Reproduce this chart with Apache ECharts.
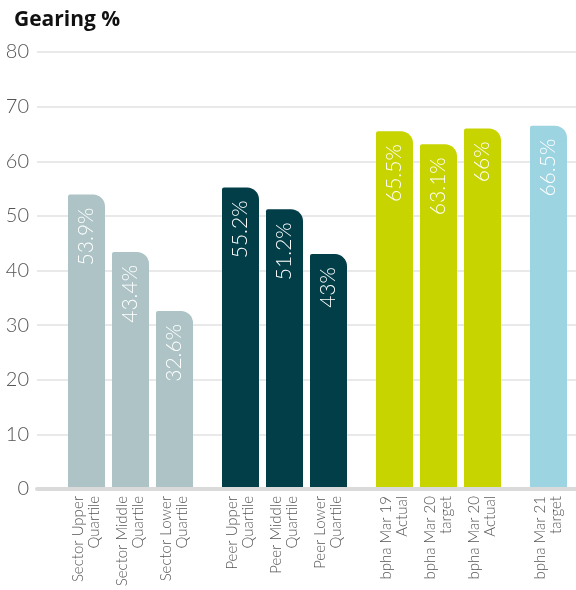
<!DOCTYPE html>
<html>
<head>
<meta charset="utf-8">
<script src="https://cdn.jsdelivr.net/npm/echarts@6/dist/echarts.min.js"></script>
<style>
  html, body { margin: 0; padding: 0; background: #fff; }
  #chart { width: 576px; height: 590px; }
</style>
</head>
<body>
<div id="chart"></div>
<script>
// Gearing % by comparison group
const categories = [
  'Sector Upper\nQuartile', 'Sector Middle\nQuartile', 'Sector Lower\nQuartile',
  'Peer Upper\nQuartile', 'Peer Middle\nQuartile', 'Peer Lower\nQuartile',
  'bpha Mar 19\nActual', 'bpha Mar 20\ntarget', 'bpha Mar 20\nActual',
  'bpha Mar 21\ntarget'
];
const gearing = [53.9, 43.4, 32.6, 55.2, 51.2, 43, 65.5, 63.1, 66, 66.5];
const group = [0, 0, 0, 1, 1, 1, 2, 2, 2, 3];
const groupColors = ['#adc3c6', '#023e48', '#c8d400', '#9dd4e1'];
const yTicks = { min: 0, max: 80, interval: 10 };

// Narrow category slots so that bars in a group sit close together
// and a wider gap separates the groups.
const LEAD = 4, STEP = 4, GROUP_GAP = 2, TRAIL = 2;
const lastSlot = LEAD + (categories.length - 1) * STEP + group[group.length - 1] * GROUP_GAP;
const slotCount = lastSlot + 1 + TRAIL;
const slotNames = [];
const slotLabels = [];
const slotData = [];
for (let s = 0; s < slotCount; s++) {
  slotNames.push('s' + s);
  slotLabels.push('');
  slotData.push('-');
}
categories.forEach((name, i) => {
  const s = LEAD + i * STEP + group[i] * GROUP_GAP;
  slotLabels[s] = name;
  slotData[s] = { value: gearing[i], itemStyle: { color: groupColors[group[i]] } };
});

const FONT = 'Lato, "Open Sans", sans-serif';
const chart = echarts.init(document.getElementById('chart'), null, { renderer: 'canvas' });
chart.setOption({
  animation: false,
  title: {
    text: 'Gearing %',
    left: 9, top: 5,
    textStyle: { fontFamily: '"Open Sans", Lato, sans-serif', fontSize: 21, fontWeight: 'bold', color: '#111' }
  },
  grid: { left: 37, right: 0, top: 52, bottom: 101 },
  xAxis: {
    type: 'category',
    data: slotNames,
    z: 5,
    axisLine: { show: true, lineStyle: { color: '#dadada', width: 4 } },
    axisTick: { show: false },
    axisLabel: {
      interval: 0,
      rotate: 90,
      margin: 7,
      fontFamily: FONT,
      fontWeight: 300,
      fontSize: 15,
      lineHeight: 16,
      color: '#555',
      formatter: (v, idx) => slotLabels[idx]
    }
  },
  yAxis: {
    type: 'value',
    min: yTicks.min, max: yTicks.max, interval: yTicks.interval,
    axisLine: { show: false },
    axisTick: { show: false },
    axisLabel: { margin: 8, fontFamily: FONT, fontWeight: 300, fontSize: 20, color: '#555' },
    splitLine: { lineStyle: { color: '#e2e2e2', width: 1.5 } }
  },
  series: [{
    type: 'bar',
    data: slotData,
    barWidth: 37,
    itemStyle: { borderRadius: [2, 12, 0, 0] },
    label: {
      show: true,
      position: 'insideTop',
      rotate: 90,
      align: 'right',
      verticalAlign: 'middle',
      distance: 13,
      fontFamily: FONT,
      fontWeight: 300,
      fontSize: 21,
      color: '#fff',
      formatter: p => p.value + '%'
    }
  }]
});
</script>
</body>
</html>
